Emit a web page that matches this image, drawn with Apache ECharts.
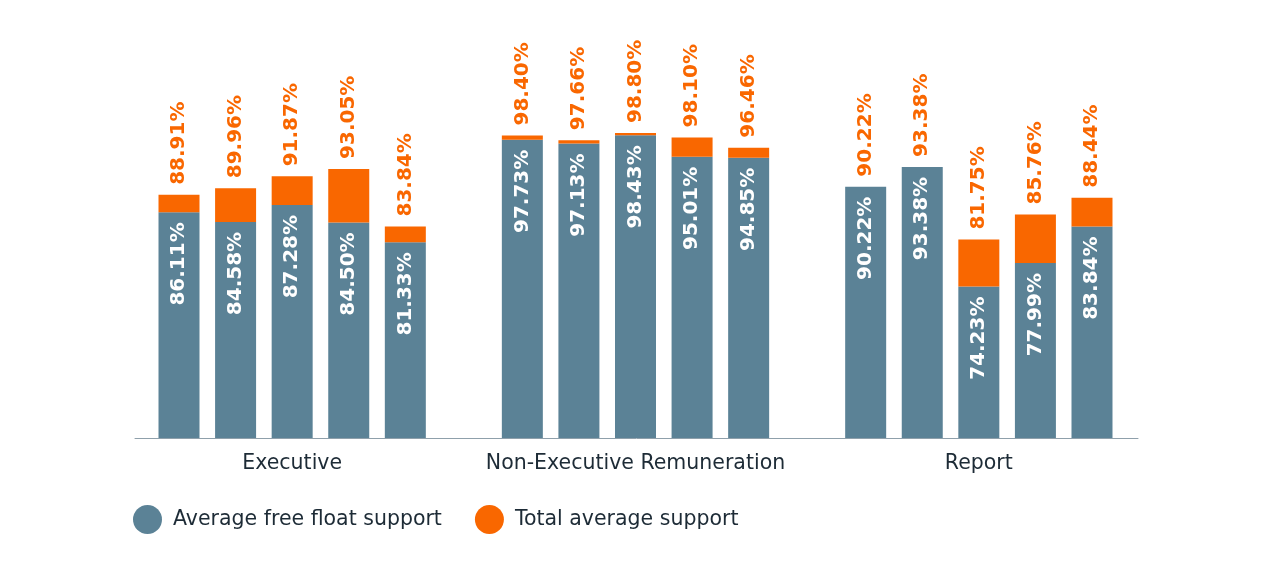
<!DOCTYPE html>
<html>
<head>
<meta charset="utf-8">
<script src="https://cdn.jsdelivr.net/npm/echarts@6/dist/echarts.min.js"></script>
<style>
html,body{margin:0;padding:0;background:#fff;}
#chart{width:1280px;height:563px;}
</style>
</head>
<body>
<div id="chart"></div>
<script>
var categories = ['Executive', 'Non-Executive Remuneration', 'Report'];
// free float support per bar (5 bars per category)
var freeFloat = [
  [86.11, 84.58, 87.28, 84.50, 81.33],
  [97.73, 97.13, 98.43, 95.01, 94.85],
  [90.22, 93.38, 74.23, 77.99, 83.84]
];
// total average support per bar
var totalSupport = [
  [88.91, 89.96, 91.87, 93.05, 83.84],
  [98.40, 97.66, 98.80, 98.10, 96.46],
  [90.22, 93.38, 81.75, 85.76, 88.44]
];
var seriesNames = ['Average free float support', 'Total average support'];

var BLUE = '#5b8296', ORANGE = '#f96700', TEXT = '#1d2b36';
var FONT = 'DejaVu Sans';

var series = [];
for (var i = 0; i < 5; i++) {
  (function (i) {
    series.push({
      name: seriesNames[0],
      type: 'bar',
      stack: 's' + i,
      barWidth: 41,
      barGap: '38%',
      barCategoryGap: '22%',
      itemStyle: { color: BLUE },
      label: {
        show: true, position: 'insideTop', rotate: 90, distance: 10,
        align: 'right', verticalAlign: 'middle',
        color: '#fff', fontFamily: FONT, fontWeight: 'bold', fontSize: 20,
        formatter: function (p) { return freeFloat[p.dataIndex][i].toFixed(2) + '%'; }
      },
      data: freeFloat.map(function (row) { return row[i]; })
    });
    series.push({
      name: seriesNames[1],
      type: 'bar',
      stack: 's' + i,
      barWidth: 41,
      itemStyle: { color: ORANGE },
      label: {
        show: true, position: 'top', rotate: 90, distance: 10,
        align: 'left', verticalAlign: 'middle',
        color: ORANGE, fontFamily: FONT, fontWeight: 'bold', fontSize: 20,
        formatter: function (p) { return totalSupport[p.dataIndex][i].toFixed(2) + '%'; }
      },
      data: totalSupport.map(function (row, k) { return +(row[i] - freeFloat[k][i]).toFixed(2); })
    });
  })(i);
}

var chart = echarts.init(document.getElementById('chart'), null, { renderer: 'canvas' });
chart.setOption({
  animation: false,
  backgroundColor: '#fff',
  textStyle: { fontFamily: FONT },
  grid: [
    { left: 120.5, right: 129.5, top: 125.5, bottom: 125 },
    { left: 135, right: 142, top: 125.5, bottom: 125 }
  ],
  legend: {
    data: seriesNames,
    left: 133, top: 505, padding: 0,
    icon: 'circle', itemWidth: 29, itemHeight: 29, itemGap: 33,
    textStyle: { fontFamily: FONT, fontSize: 20.5, color: TEXT, padding: [0, 0, 0, 6] },
    selectedMode: false
  },
  xAxis: [
    {
      type: 'category', data: categories, gridIndex: 0,
      axisLine: { show: false }, axisTick: { show: false },
      axisLabel: { interval: 0, fontFamily: FONT, fontSize: 20.5, color: TEXT, margin: 15 }
    },
    {
      type: 'category', data: [''], gridIndex: 1,
      axisLine: { show: true, lineStyle: { color: '#8fa0ab', width: 1 } },
      axisTick: { show: false }, axisLabel: { show: false }
    }
  ],
  yAxis: [
    { type: 'value', min: 50, max: 100, gridIndex: 0, show: false, splitLine: { show: false } },
    { type: 'value', min: 50, max: 100, gridIndex: 1, show: false, splitLine: { show: false } }
  ],
  series: series
});
</script>
</body>
</html>
